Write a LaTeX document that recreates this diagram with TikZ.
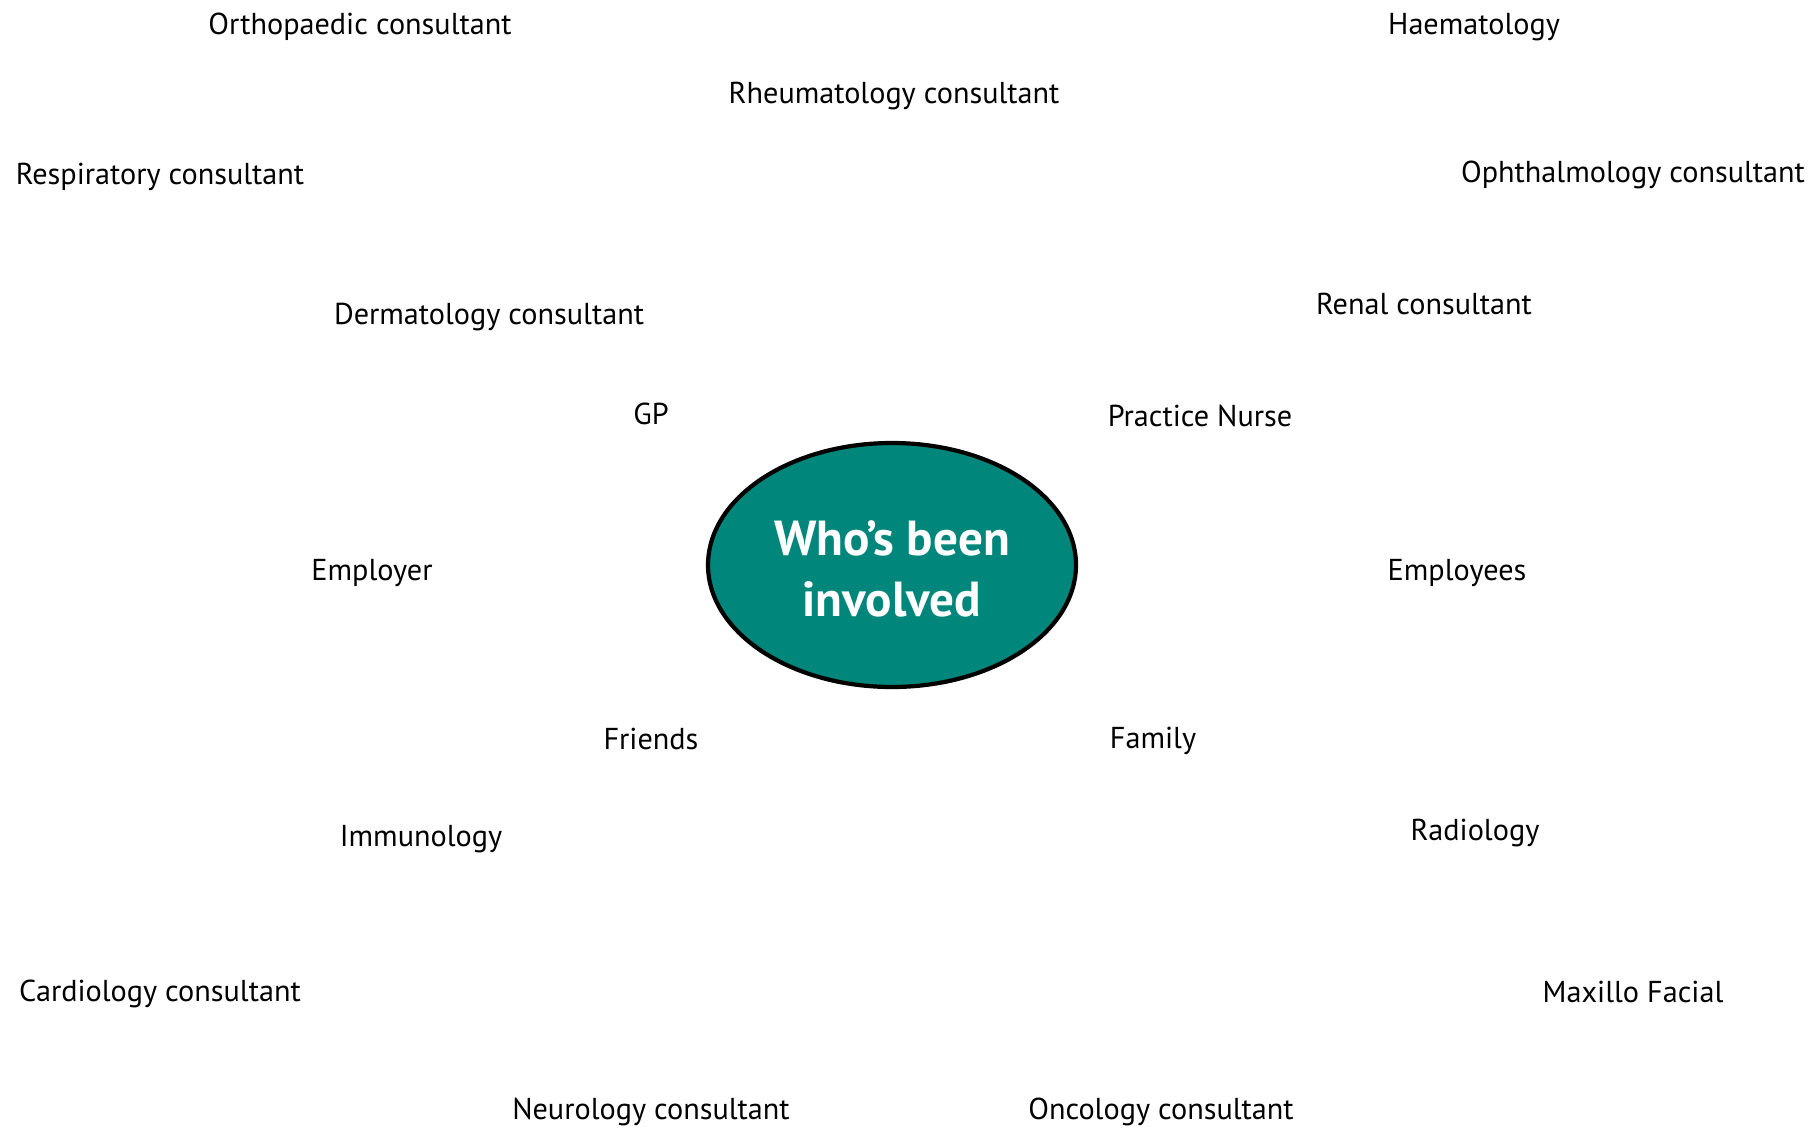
\documentclass[tikz,border=0pt]{standalone}
\usepackage{fontspec}
\setmainfont{PT Sans}
\usetikzlibrary{shapes.geometric}
\definecolor{hubteal}{RGB}{0,134,122}
\tikzset{who/.style={font=\fontsize{8.6}{10}\selectfont,inner sep=0pt,anchor=base}}
\begin{document}
\begin{tikzpicture}[x=0.1mm,y=-0.1mm,every node/.style={who}]
  \useasboundingbox (0,0) rectangle (1820,1128);
  % centre
  \node[ellipse,draw=black,line width=1.2pt,fill=hubteal,minimum width=3.68cm,minimum height=2.44cm,anchor=center] (hub) at (892,565) {};
  \node[text=white,align=center,anchor=center,font=\fontsize{14}{17.4}\selectfont\bfseries] (hubtext) at ([yshift=-0.4mm]hub.center) {Who’s been\\involved};
  % inner ring
  \node (gp) at (651,424) {GP};
  \node (nurse) at (1200,426) {Practice Nurse};
  \node (employer) at (372,580) {Employer};
  \node (employees) at (1457,580) {Employees};
  \node (friends) at (651,749) {Friends};
  \node (family) at (1153,748) {Family};
  % specialists, top half
  \node (ortho) at (360,35) {Orthopaedic consultant};
  \node (haem) at (1474,35) {Haematology};
  \node (rheum) at (894,104) {Rheumatology consultant};
  \node (resp) at (160,185) {Respiratory consultant};
  \node (ophth) at (1633,183) {Ophthalmology consultant};
  \node (derm) at (489,324) {Dermatology consultant};
  \node (renal) at (1424,314) {Renal consultant};
  % specialists, bottom half
  \node (immuno) at (421,846) {Immunology};
  \node (radio) at (1475,840) {Radiology};
  \node (cardio) at (160,1001) {Cardiology consultant};
  \node (maxfac) at (1633,1002) {Maxillo Facial};
  \node (neuro) at (651,1119) {Neurology consultant};
  \node (onco) at (1161,1119) {Oncology consultant};
\end{tikzpicture}
\end{document}
